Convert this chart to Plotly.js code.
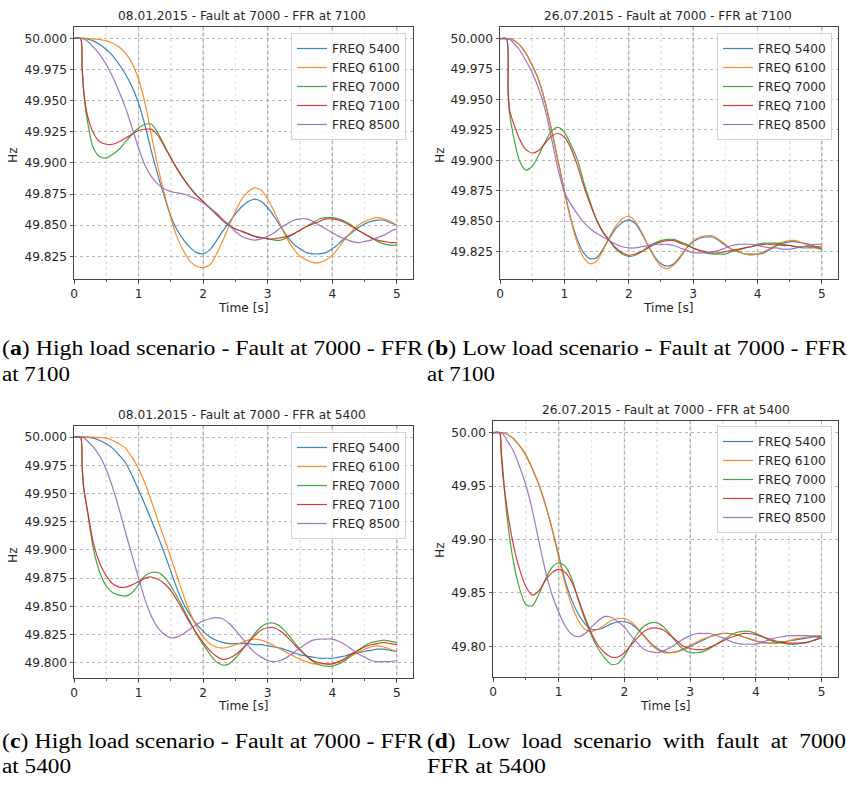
<!DOCTYPE html>
<html>
<head>
<meta charset="utf-8">
<script src="https://cdn.plot.ly/plotly-3.0.1.min.js"></script>
<style>
  html, body { margin: 0; padding: 0; background: #ffffff; }
  #chart { width: 847px; height: 787px; }
</style>
</head>
<body>
<div id="chart"></div>
<script>
// Time samples [s] shared by every simulated bus frequency trace
const TIME = [0, 0.1, 0.125, 0.15, 0.2, 0.3, 0.4, 0.5, 0.6, 0.7, 0.8, 0.9,
  1.0, 1.1, 1.2, 1.3, 1.4, 1.5, 1.6, 1.7, 1.8, 1.9,
  2.0, 2.1, 2.2, 2.3, 2.4, 2.5, 2.6, 2.7, 2.8, 2.9,
  3.0, 3.1, 3.2, 3.3, 3.4, 3.5, 3.6, 3.7, 3.8, 3.9,
  4.0, 4.1, 4.2, 4.3, 4.4, 4.5, 4.6, 4.7, 4.8, 4.9,
  5.0];

const SERIES_NAMES = ['FREQ 5400', 'FREQ 6100', 'FREQ 7000', 'FREQ 7100', 'FREQ 8500'];

// (a) 08.01.2015, high load, fault at 7000, FFR at 7100
const A_5400 = [50.000, 50.000, 50.000, 50.000, 49.9995, 49.998, 49.995, 49.991, 49.986, 49.979, 49.971, 49.961,
  49.948, 49.930, 49.909, 49.890, 49.873, 49.857, 49.846, 49.838, 49.832, 49.828,
  49.827, 49.830, 49.837, 49.845, 49.852, 49.859, 49.865, 49.869, 49.871, 49.869,
  49.864, 49.857, 49.849, 49.841, 49.835, 49.831, 49.828, 49.827, 49.827, 49.828,
  49.831, 49.835, 49.840, 49.844, 49.848, 49.851, 49.853, 49.854, 49.854, 49.852,
  49.850];
const A_6100 = [50.000, 50.000, 50.000, 50.000, 50.000, 49.9995, 49.999, 49.998, 49.996, 49.993, 49.988, 49.980,
  49.967, 49.948, 49.922, 49.897, 49.875, 49.856, 49.840, 49.829, 49.821, 49.817,
  49.816, 49.818, 49.826, 49.837, 49.849, 49.861, 49.871, 49.877, 49.880, 49.878,
  49.871, 49.861, 49.850, 49.839, 49.831, 49.825, 49.822, 49.820, 49.820, 49.822,
  49.826, 49.832, 49.839, 49.845, 49.850, 49.853, 49.855, 49.856, 49.855, 49.853,
  49.850];
const A_7000 = [50.000, 50.000, 49.977, 49.957, 49.936, 49.912, 49.905, 49.904, 49.907, 49.911, 49.917, 49.923,
  49.928, 49.931, 49.931, 49.924, 49.914, 49.904, 49.895, 49.887, 49.880, 49.874,
  49.869, 49.864, 49.859, 49.854, 49.850, 49.847, 49.845, 49.843, 49.841, 49.840,
  49.839, 49.838, 49.838, 49.840, 49.843, 49.846, 49.849, 49.852, 49.855, 49.856,
  49.856, 49.855, 49.853, 49.850, 49.846, 49.843, 49.840, 49.837, 49.835, 49.834,
  49.834];
const A_7100 = [50.000, 50.000, 49.977, 49.958, 49.940, 49.924, 49.917, 49.915, 49.915, 49.917, 49.920, 49.923,
  49.926, 49.927, 49.927, 49.922, 49.913, 49.904, 49.895, 49.887, 49.880, 49.874,
  49.869, 49.864, 49.859, 49.854, 49.850, 49.847, 49.845, 49.843, 49.841, 49.840,
  49.839, 49.839, 49.840, 49.841, 49.843, 49.846, 49.849, 49.851, 49.853, 49.855,
  49.855, 49.854, 49.852, 49.849, 49.846, 49.843, 49.840, 49.838, 49.837, 49.836,
  49.836];
const A_8500 = [50.000, 50.000, 50.000, 49.9995, 49.998, 49.993, 49.987, 49.979, 49.969, 49.957, 49.944, 49.928,
  49.912, 49.898, 49.889, 49.883, 49.879, 49.877, 49.876, 49.875, 49.873, 49.871,
  49.868, 49.864, 49.860, 49.855, 49.850, 49.845, 49.841, 49.839, 49.838, 49.839,
  49.841, 49.844, 49.848, 49.851, 49.854, 49.855, 49.855, 49.853, 49.850, 49.847,
  49.844, 49.841, 49.839, 49.837, 49.836, 49.837, 49.838, 49.840, 49.842, 49.845,
  49.847];

// (b) 26.07.2015, low load, fault at 7000, FFR at 7100
const B_5400 = [50.000, 50.000, 50.000, 50.000, 49.999, 49.995, 49.988, 49.978, 49.966, 49.948, 49.925, 49.900,
  49.875, 49.852, 49.835, 49.824, 49.819, 49.820, 49.827, 49.836, 49.844, 49.849,
  49.851, 49.848, 49.840, 49.830, 49.821, 49.815, 49.813, 49.815, 49.821, 49.828,
  49.833, 49.836, 49.837, 49.837, 49.834, 49.830, 49.827, 49.825, 49.823, 49.823,
  49.823, 49.824, 49.827, 49.830, 49.832, 49.833, 49.833, 49.832, 49.831, 49.829,
  49.827];
const B_6100 = [50.000, 50.000, 50.000, 50.000, 49.999, 49.995, 49.988, 49.978, 49.966, 49.948, 49.925, 49.900,
  49.874, 49.851, 49.832, 49.820, 49.815, 49.817, 49.826, 49.837, 49.846, 49.852,
  49.854, 49.850, 49.841, 49.830, 49.820, 49.813, 49.811, 49.814, 49.820, 49.828,
  49.834, 49.837, 49.838, 49.838, 49.835, 49.831, 49.827, 49.825, 49.823, 49.822,
  49.823, 49.825, 49.828, 49.831, 49.833, 49.834, 49.834, 49.832, 49.830, 49.829,
  49.828];
const B_7000 = [50.000, 50.000, 49.955, 49.938, 49.922, 49.900, 49.892, 49.895, 49.904, 49.915, 49.924, 49.927,
  49.923, 49.913, 49.901, 49.882, 49.866, 49.851, 49.841, 49.834, 49.827, 49.823,
  49.821, 49.822, 49.825, 49.829, 49.832, 49.834, 49.835, 49.835, 49.833, 49.831,
  49.828, 49.826, 49.824, 49.823, 49.823, 49.823, 49.825, 49.826, 49.828, 49.829,
  49.831, 49.832, 49.832, 49.832, 49.831, 49.830, 49.829, 49.828, 49.828, 49.828,
  49.827];
const B_7100 = [50.000, 50.000, 49.960, 49.941, 49.932, 49.918, 49.909, 49.906, 49.908, 49.914, 49.920, 49.922,
  49.919, 49.910, 49.896, 49.879, 49.864, 49.851, 49.841, 49.834, 49.828, 49.824,
  49.822, 49.823, 49.825, 49.828, 49.831, 49.833, 49.834, 49.834, 49.832, 49.830,
  49.828, 49.826, 49.825, 49.824, 49.824, 49.825, 49.826, 49.827, 49.828, 49.829,
  49.830, 49.831, 49.831, 49.831, 49.830, 49.830, 49.829, 49.829, 49.829, 49.829,
  49.829];
const B_8500 = [50.000, 50.000, 50.000, 49.9995, 49.997, 49.991, 49.982, 49.972, 49.959, 49.942, 49.918, 49.893,
  49.874, 49.864, 49.856, 49.849, 49.844, 49.840, 49.837, 49.834, 49.831, 49.829,
  49.828, 49.828, 49.829, 49.830, 49.831, 49.831, 49.831, 49.830, 49.828, 49.826,
  49.824, 49.824, 49.824, 49.825, 49.826, 49.828, 49.830, 49.831, 49.831, 49.831,
  49.830, 49.829, 49.828, 49.828, 49.827, 49.827, 49.828, 49.829, 49.830, 49.831,
  49.831];

// (c) 08.01.2015, high load, fault at 7000, FFR at 5400
const C_5400 = [50.000, 50.000, 50.000, 50.000, 50.000, 49.999, 49.997, 49.994, 49.990, 49.984, 49.977, 49.966,
  49.953, 49.940, 49.926, 49.912, 49.897, 49.881, 49.865, 49.852, 49.842, 49.834,
  49.828, 49.823, 49.820, 49.818, 49.817, 49.817, 49.817, 49.817, 49.816, 49.816,
  49.815, 49.814, 49.813, 49.811, 49.809, 49.807, 49.806, 49.805, 49.804, 49.804,
  49.804, 49.805, 49.806, 49.808, 49.809, 49.810, 49.811, 49.812, 49.812, 49.811,
  49.810];
const C_6100 = [50.000, 50.000, 50.000, 50.000, 50.000, 50.000, 49.9995, 49.999, 49.997, 49.994, 49.990, 49.982,
  49.972, 49.959, 49.943, 49.926, 49.910, 49.893, 49.876, 49.859, 49.844, 49.832,
  49.823, 49.817, 49.814, 49.813, 49.814, 49.816, 49.818, 49.820, 49.821, 49.820,
  49.818, 49.815, 49.812, 49.809, 49.806, 49.803, 49.801, 49.799, 49.799, 49.799,
  49.799, 49.801, 49.803, 49.806, 49.809, 49.812, 49.814, 49.815, 49.814, 49.812,
  49.810];
const C_7000 = [50.000, 50.000, 49.975, 49.955, 49.937, 49.901, 49.880, 49.868, 49.862, 49.860, 49.859, 49.862,
  49.869, 49.877, 49.880, 49.880, 49.876, 49.868, 49.858, 49.847, 49.836, 49.825,
  49.816, 49.808, 49.801, 49.798, 49.799, 49.804, 49.811, 49.818, 49.826, 49.832,
  49.835, 49.835, 49.832, 49.826, 49.819, 49.812, 49.806, 49.801, 49.798, 49.797,
  49.797, 49.799, 49.802, 49.807, 49.811, 49.815, 49.818, 49.819, 49.820, 49.819,
  49.818];
const C_7100 = [50.000, 50.000, 49.975, 49.955, 49.938, 49.906, 49.888, 49.877, 49.870, 49.867, 49.867, 49.869,
  49.872, 49.875, 49.876, 49.874, 49.870, 49.864, 49.855, 49.845, 49.835, 49.826,
  49.818, 49.811, 49.806, 49.803, 49.804, 49.807, 49.812, 49.818, 49.824, 49.829,
  49.831, 49.831, 49.828, 49.823, 49.817, 49.811, 49.806, 49.802, 49.800, 49.799,
  49.799, 49.801, 49.804, 49.808, 49.811, 49.814, 49.816, 49.817, 49.818, 49.817,
  49.816];
const C_8500 = [50.000, 50.000, 50.000, 49.9995, 49.997, 49.991, 49.983, 49.971, 49.955, 49.936, 49.915, 49.895,
  49.875, 49.856, 49.841, 49.831, 49.825, 49.822, 49.823, 49.826, 49.830, 49.834,
  49.837, 49.839, 49.840, 49.839, 49.835, 49.829, 49.822, 49.815, 49.809, 49.805,
  49.802, 49.801, 49.802, 49.805, 49.809, 49.813, 49.817, 49.820, 49.821, 49.821,
  49.821, 49.819, 49.816, 49.812, 49.808, 49.805, 49.802, 49.801, 49.801, 49.801,
  49.802];

// (d) 26.07.2015, low load, fault at 7000, FFR at 5400
const D_5400 = [50.000, 50.000, 50.000, 50.000, 49.999, 49.995, 49.988, 49.979, 49.966, 49.951, 49.932, 49.910,
  49.885, 49.861, 49.843, 49.830, 49.821, 49.816, 49.816, 49.818, 49.821, 49.823,
  49.823, 49.821, 49.816, 49.810, 49.803, 49.798, 49.795, 49.794, 49.795, 49.797,
  49.800, 49.803, 49.806, 49.809, 49.811, 49.812, 49.812, 49.811, 49.809, 49.807,
  49.805, 49.804, 49.803, 49.803, 49.804, 49.805, 49.806, 49.807, 49.808, 49.809,
  49.809];
const D_6100 = [50.000, 50.000, 50.000, 50.000, 49.999, 49.995, 49.988, 49.979, 49.966, 49.951, 49.932, 49.909,
  49.883, 49.858, 49.838, 49.824, 49.816, 49.814, 49.816, 49.820, 49.824, 49.826,
  49.826, 49.823, 49.817, 49.809, 49.802, 49.797, 49.794, 49.794, 49.795, 49.798,
  49.801, 49.804, 49.807, 49.809, 49.811, 49.812, 49.812, 49.811, 49.809, 49.807,
  49.805, 49.803, 49.803, 49.803, 49.804, 49.805, 49.807, 49.808, 49.809, 49.810,
  49.810];
const D_7000 = [50.000, 50.000, 49.982, 49.966, 49.929, 49.883, 49.855, 49.839, 49.838, 49.849, 49.863, 49.874,
  49.878, 49.875, 49.863, 49.843, 49.825, 49.810, 49.798, 49.789, 49.783, 49.784,
  49.791, 49.802, 49.812, 49.819, 49.822, 49.822, 49.818, 49.811, 49.803, 49.797,
  49.794, 49.794, 49.795, 49.798, 49.802, 49.806, 49.810, 49.813, 49.814, 49.814,
  49.812, 49.809, 49.806, 49.804, 49.803, 49.802, 49.802, 49.803, 49.804, 49.806,
  49.808];
const D_7100 = [50.000, 50.000, 49.980, 49.960, 49.935, 49.898, 49.873, 49.856, 49.848, 49.852, 49.862, 49.869,
  49.872, 49.869, 49.860, 49.844, 49.827, 49.812, 49.801, 49.794, 49.790, 49.790,
  49.794, 49.801, 49.808, 49.814, 49.817, 49.817, 49.815, 49.810, 49.805, 49.800,
  49.798, 49.797, 49.797, 49.799, 49.802, 49.805, 49.808, 49.810, 49.812, 49.812,
  49.811, 49.809, 49.807, 49.805, 49.804, 49.803, 49.803, 49.803, 49.804, 49.806,
  49.808];
const D_8500 = [50.000, 50.000, 49.9995, 49.999, 49.994, 49.984, 49.969, 49.951, 49.927, 49.898, 49.870, 49.848,
  49.832, 49.819, 49.811, 49.809, 49.812, 49.818, 49.824, 49.828, 49.827, 49.823,
  49.818, 49.810, 49.803, 49.797, 49.795, 49.794, 49.796, 49.799, 49.803, 49.807,
  49.810, 49.812, 49.812, 49.812, 49.810, 49.808, 49.805, 49.803, 49.802, 49.802,
  49.802, 49.804, 49.806, 49.808, 49.809, 49.810, 49.810, 49.810, 49.810, 49.809,
  49.808];

// Axis tick values
const X_TICKS = [0, 1, 2, 3, 4, 5];
const Y_TICKS_AB = [49.825, 49.850, 49.875, 49.900, 49.925, 49.950, 49.975, 50.000];
const Y_TICKS_C = [49.800, 49.825, 49.850, 49.875, 49.900, 49.925, 49.950, 49.975, 50.000];
const Y_TICKS_D = [49.80, 49.85, 49.90, 49.95, 50.00];

const TITLES = [
  '08.01.2015 - Fault at 7000 - FFR at 7100',
  '26.07.2015 - Fault at 7000 - FFR at 7100',
  '08.01.2015 - Fault at 7000 - FFR at 5400',
  '26.07.2015 - Fault at 7000 - FFR at 5400'
];

const COLORS = ['#1f77b4', '#ff7f0e', '#2ca02c', '#d62728', '#9467bd'];

// ---- page geometry (pixels of the 847 x 787 page) ----
const W = 847, H = 787;
const px = v => v / W;
const py = v => 1 - v / H;

const PANELS = [
  { series: [A_5400, A_6100, A_7000, A_7100, A_8500], box: [74, 413, 27, 279],
    yrange: [49.8068, 50.0091], yticks: Y_TICKS_AB, fmt: '.3f',
    legend: [406, 33], title: [242, 16], hz: [13, 155], time: [243, 308] },
  { series: [B_5400, B_6100, B_7000, B_7100, B_8500], box: [500, 838, 27, 279],
    yrange: [49.8025, 50.0095], yticks: Y_TICKS_AB, fmt: '.3f',
    legend: [832, 33], title: [668, 16], hz: [440, 155], time: [668, 308] },
  { series: [C_5400, C_6100, C_7000, C_7100, C_8500], box: [74, 413, 426, 678],
    yrange: [49.7865, 50.0098], yticks: Y_TICKS_C, fmt: '.3f',
    legend: [406, 432], title: [242, 415], hz: [13, 555], time: [243, 706] },
  { series: [D_5400, D_6100, D_7000, D_7100, D_8500], box: [493, 838, 421, 677],
    yrange: [49.7713, 50.0109], yticks: Y_TICKS_D, fmt: '.2f',
    legend: [832, 426], title: [666, 410], hz: [440, 550], time: [665, 706] }
];

const FONT = 'DejaVu Sans';
const TXT = '#262626';
const FS = 12.2;
const MINOR_GRID = 'rgba(0,0,0,0.09)';

const traces = [];
const layout = {
  width: W, height: H,
  margin: { l: 0, r: 0, t: 0, b: 0 },
  paper_bgcolor: '#ffffff',
  plot_bgcolor: '#ffffff',
  font: { family: FONT, size: FS, color: TXT },
  annotations: [],
  shapes: [],
  showlegend: true
};

PANELS.forEach((p, i) => {
  const n = i === 0 ? '' : String(i + 1);
  const xa = 'x' + n, ya = 'y' + n;
  const legendId = 'legend' + n;

  p.series.forEach((vals, k) => {
    traces.push({
      type: 'scatter', mode: 'lines',
      x: TIME, y: vals,
      name: SERIES_NAMES[k],
      xaxis: xa, yaxis: ya,
      legend: legendId,
      opacity: 0.9,
      line: { color: COLORS[k], width: 1.2, shape: 'spline', smoothing: 0.7 },
      hoverinfo: 'skip'
    });
  });

  layout['xaxis' + n] = {
    domain: [px(p.box[0]), px(p.box[1])],
    anchor: ya,
    range: [0, 5.25],
    tickmode: 'array', tickvals: X_TICKS, ticktext: X_TICKS.map(String),
    ticks: 'outside', ticklen: 3.5, tickwidth: 0.8, tickcolor: '#333',
    showline: true, mirror: true, linecolor: '#444', linewidth: 1,
    showgrid: true, gridcolor: '#a8a8a8', griddash: 'dot', gridwidth: 0.8,
    zeroline: false,
    minor: { tickmode: 'linear', tick0: 0, dtick: 0.5, ticks: 'outside', ticklen: 2,
             tickcolor: '#333', showgrid: true, gridcolor: MINOR_GRID, gridwidth: 1.6 },
    tickfont: { family: FONT, size: FS, color: TXT }
  };
  layout['yaxis' + n] = {
    domain: [py(p.box[3]), py(p.box[2])],
    anchor: xa,
    range: p.yrange,
    tickmode: 'array', tickvals: p.yticks,
    tickformat: p.fmt,
    ticks: 'outside', ticklen: 3.5, tickwidth: 0.8, tickcolor: '#333',
    showline: true, mirror: true, linecolor: '#444', linewidth: 1,
    showgrid: true, gridcolor: '#a8a8a8', griddash: 'dot', gridwidth: 0.8,
    zeroline: false,
    tickfont: { family: FONT, size: FS, color: TXT }
  };
  layout[legendId] = {
    x: px(p.legend[0]), xanchor: 'right',
    y: py(p.legend[1]), yanchor: 'top',
    bgcolor: 'rgba(255,255,255,0.85)',
    bordercolor: '#d4d4d4', borderwidth: 1,
    font: { family: FONT, size: FS, color: TXT },
    itemwidth: 30, tracegroupgap: 0
  };

  // the soft minor grid also runs under each major (integer) grid line
  X_TICKS.slice(1).forEach(v => {
    layout.shapes.push({
      type: 'line', xref: xa, yref: ya + ' domain',
      x0: v, x1: v, y0: 0, y1: 1, layer: 'below',
      line: { color: MINOR_GRID, width: 1.6 }
    });
  });

  layout.annotations.push(
    { text: TITLES[i], x: px(p.title[0]), y: py(p.title[1]), xref: 'paper', yref: 'paper',
      xanchor: 'center', yanchor: 'middle', showarrow: false,
      font: { family: FONT, size: FS, color: TXT } },
    { text: 'Hz', x: px(p.hz[0]), y: py(p.hz[1]), xref: 'paper', yref: 'paper',
      xanchor: 'center', yanchor: 'middle', showarrow: false, textangle: -90,
      font: { family: FONT, size: FS, color: TXT } },
    { text: 'Time [s]', x: px(p.time[0]), y: py(p.time[1]), xref: 'paper', yref: 'paper',
      xanchor: 'center', yanchor: 'middle', showarrow: false,
      font: { family: FONT, size: FS, color: TXT } }
  );
});

// Sub-figure captions (serif, as in the document body); each line is
// stretched to the width it takes in the two-column page layout.
const SERIF = 'Liberation Serif';
const CAP = 20;
const nb = '\u00A0';
const gap = nb + nb;
const CAPTIONS = [
  { text: '(<b>a</b>) High load scenario - Fault at 7000 - FFR', x: 1, y: 349, w: 421 },
  { text: 'at 7100', x: 1, y: 374, w: 68 },
  { text: '(<b>b</b>) Low load scenario - Fault at 7000 - FFR', x: 426, y: 349, w: 420 },
  { text: 'at 7100', x: 426, y: 374, w: 68 },
  { text: '(<b>c</b>) High load scenario - Fault at 7000 - FFR', x: 1, y: 741, w: 421 },
  { text: 'at 5400', x: 1, y: 766, w: 69 },
  { text: ['(<b>d</b>)', 'Low', 'load', 'scenario', 'with', 'fault', 'at', '7000'].join(gap), x: 426, y: 741, w: 419 },
  { text: 'FFR at 5400', x: 426, y: 766, w: 119 }
];
CAPTIONS.forEach(c => {
  layout.annotations.push({
    text: c.text, x: px(c.x), y: py(c.y), xref: 'paper', yref: 'paper',
    xanchor: 'left', yanchor: 'middle', showarrow: false, borderpad: 0,
    font: { family: SERIF, size: CAP, color: '#000000' }
  });
});

Plotly.newPlot('chart', traces, layout, { displayModeBar: false, staticPlot: true }).then(gd => {
  const nodes = gd.querySelectorAll('g.annotation text.annotation-text');
  const firstCaption = layout.annotations.length - CAPTIONS.length;
  nodes.forEach((node, idx) => {
    const ci = idx - firstCaption;
    if (ci >= 0 && ci < CAPTIONS.length) {
      // keep the left edge fixed while the line is stretched to its column width
      const left = node.getBBox().x;
      node.setAttribute('text-anchor', 'start');
      node.setAttribute('x', left);
      node.setAttribute('textLength', CAPTIONS[ci].w);
      node.setAttribute('lengthAdjust', 'spacingAndGlyphs');
    }
  });
});
</script>
</body>
</html>
